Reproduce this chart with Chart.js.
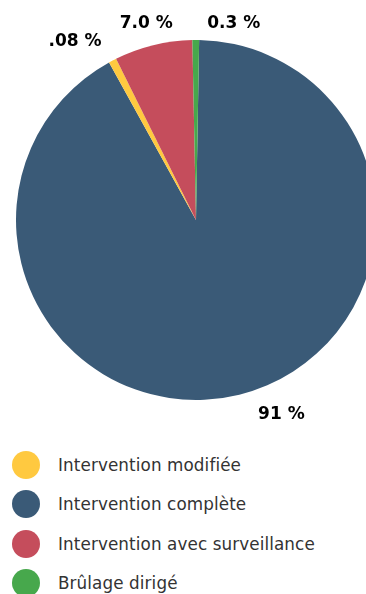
<!DOCTYPE html>
<html lang="fr">
<head>
<meta charset="utf-8">
<script src="https://cdn.jsdelivr.net/npm/chart.js@4"></script>
<style>
  body { margin: 0; background: #fff; }
  #wrap { position: relative; width: 366px; height: 594px; overflow: hidden; }
  #pie { position: absolute; left: 0; top: 0; }
  #legend { position: absolute; left: 12px; top: 445px; margin: 0; padding: 0; list-style: none; }
  #legend li { display: flex; align-items: center; height: 39.5px; font-family: "DejaVu Sans", sans-serif; font-size: 16.8px; letter-spacing: 0.1px; color: #333; }
  #legend .dot { width: 28px; height: 28px; border-radius: 50%; margin-right: 18px; flex: none; }
</style>
</head>
<body>
<div id="wrap">
  <canvas id="pie" width="392" height="440"></canvas>
  <ul id="legend"></ul>
</div>
<script>
// slices, clockwise from the top
const categories = ['Intervention complète', 'Intervention modifiée', 'Intervention avec surveillance', 'Brûlage dirigé'];
const shares = [91.7, 0.7, 7.0, 0.6];
const shareLabels = ['91 %', '.08 %', '7.0 %', '0.3 %'];
const colors = ['#3a5a77', '#ffc940', '#c54d5c', '#47a84c'];
// the legend lists them in another order
const legendOrder = ['Intervention modifiée', 'Intervention complète', 'Intervention avec surveillance', 'Brûlage dirigé'];

// small pushes so the outside labels sit where they do in the print
const labelShift = [[36, -6], [-26, 2], [-1, 1], [38, 7]];

const outsideLabels = {
  id: 'outsideLabels',
  afterDatasetsDraw(chart) {
    const ctx = chart.ctx;
    const arcs = chart.getDatasetMeta(0).data;
    ctx.save();
    ctx.font = 'bold 17px "DejaVu Sans"';
    ctx.fillStyle = '#000';
    ctx.textAlign = 'center';
    ctx.textBaseline = 'alphabetic';
    arcs.forEach((arc, i) => {
      const { x, y, startAngle, endAngle, outerRadius } = arc.getProps(['x', 'y', 'startAngle', 'endAngle', 'outerRadius'], true);
      const mid = (startAngle + endAngle) / 2;
      const r = outerRadius + 25;
      const lx = x + Math.cos(mid) * r + labelShift[i][0];
      const ly = y + Math.sin(mid) * r + labelShift[i][1];
      ctx.fillText(shareLabels[i], lx, ly + 6);
    });
    ctx.restore();
  }
};

const chart = new Chart(document.getElementById('pie'), {
  type: 'pie',
  data: {
    labels: categories,
    datasets: [{
      data: shares,
      backgroundColor: colors,
      borderWidth: 0
    }]
  },
  options: {
    responsive: false,
    animation: false,
    rotation: 1,
    layout: { padding: { left: 16, right: 16, top: 40, bottom: 40 } },
    plugins: {
      legend: { display: false },
      tooltip: { enabled: false }
    }
  },
  plugins: [outsideLabels]
});

const legendEl = document.getElementById('legend');
legendOrder.forEach(name => {
  const i = categories.indexOf(name);
  legendEl.insertAdjacentHTML('beforeend',
    `<li><span class="dot" style="background:${colors[i]}"></span>${name}</li>`);
});
</script>
</body>
</html>
